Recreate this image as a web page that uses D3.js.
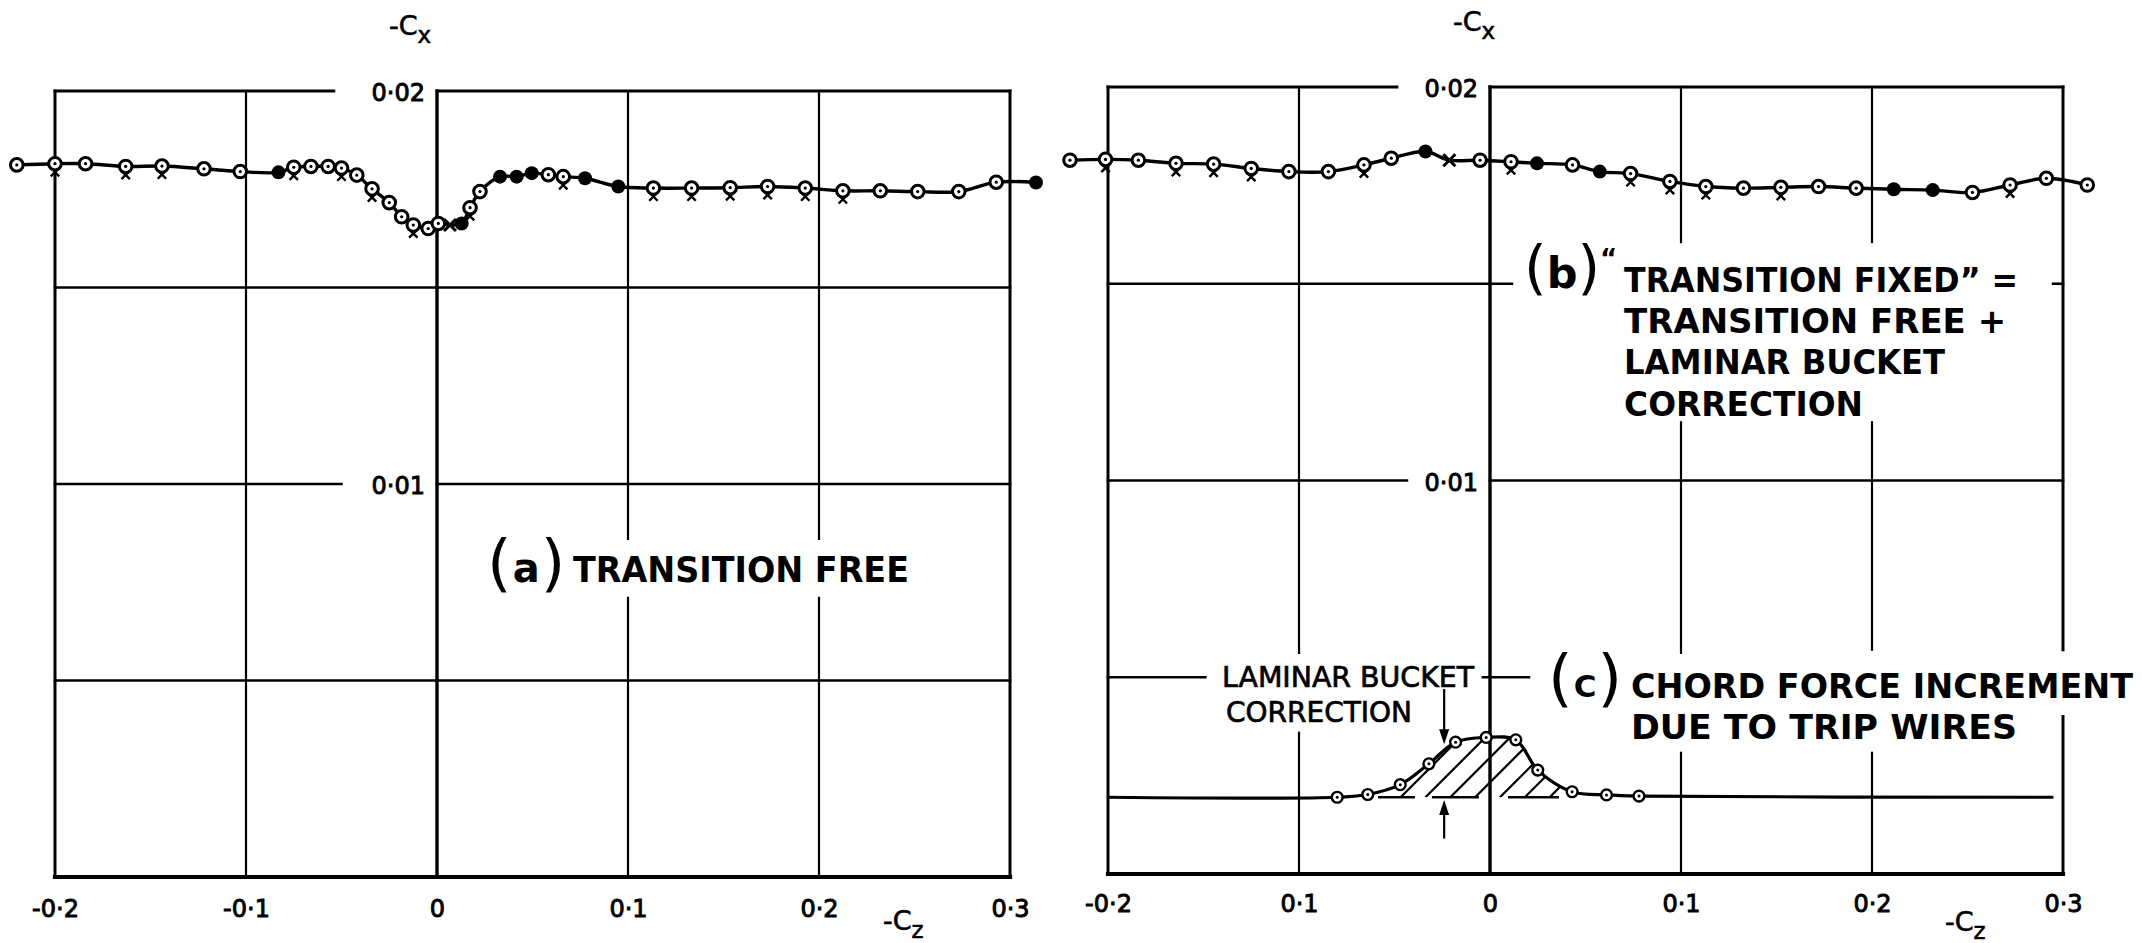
<!DOCTYPE html>
<html>
<head>
<meta charset="utf-8">
<script src="https://cdn.jsdelivr.net/npm/d3@7"></script>
<style>
  html, body { margin: 0; padding: 0; background: #fff; }
  svg { display: block; }
  text { fill: #000; font-family: "DejaVu Sans", "Liberation Sans", sans-serif; }
</style>
</head>
<body>
<svg id="chart" width="2142" height="943"></svg>
<script>
// ---- axes ----
const czTicks = [-0.2, -0.1, 0, 0.1, 0.2, 0.3];
const czLabelsFree = ["-0·2", "-0·1", "0", "0·1", "0·2", "0·3"];
const czLabelsFixed = ["-0·2", "0·1", "0", "0·1", "0·2", "0·3"];
const cxGrid = [0, 0.005, 0.01, 0.015, 0.02];
const cxLabelValues = [0.01, 0.02];
const cxLabels = ["0·01", "0·02"];

// ---- (a) transition free: -Cz, -Cx, marker type ----
const freeCz = [-0.220, -0.200, -0.184, -0.163, -0.144, -0.122, -0.103, -0.083, -0.075, -0.066,
  -0.057, -0.050, -0.042, -0.034, -0.025, -0.0185, -0.0124, -0.0046, 0.0007, 0.0068,
  0.0129, 0.0173, 0.0225, 0.033, 0.0417, 0.0496, 0.0583, 0.0661, 0.0775, 0.0949,
  0.1133, 0.1333, 0.1535, 0.1731, 0.1928, 0.2125, 0.2321, 0.2517, 0.2732, 0.2928, 0.3136];
const freeCx = [0.01812, 0.01815, 0.01815, 0.01808, 0.01809, 0.01802, 0.01795, 0.01793, 0.01806, 0.01808,
  0.01808, 0.01804, 0.01786, 0.01751, 0.01716, 0.0168, 0.01659, 0.0165, 0.01663, 0.01659,
  0.01663, 0.01703, 0.01744, 0.01782, 0.01782, 0.01791, 0.01787, 0.01782, 0.01778, 0.01757,
  0.01753, 0.01753, 0.01754, 0.01757, 0.01753, 0.01746, 0.01746, 0.01744, 0.01744, 0.01768, 0.01767];
const freeMark = ["o","ox","o","ox","ox","o","o","f","ox","o",
  "o","ox","o","ox","o","o","ox","o","o","x",
  "f","ox","o","f","f","f","o","ox","f","f",
  "ox","ox","ox","ox","ox","ox","o","o","o","o","f"];

// ---- (b) transition fixed ----
const fixedCz = [-0.2199, -0.2013, -0.1841, -0.1644, -0.1447, -0.125, -0.1053, -0.0846, -0.066, -0.0517,
  -0.0338, -0.0213, -0.0052, 0.011, 0.0246, 0.0432, 0.0575, 0.0736, 0.0942, 0.113,
  0.1327, 0.1523, 0.172, 0.1917, 0.2114, 0.2318, 0.2526, 0.2723, 0.2913, 0.3127];
const fixedCx = [0.01814, 0.01816, 0.01814, 0.01806, 0.01804, 0.01793, 0.01785, 0.01785, 0.01802, 0.01819,
  0.01836, 0.01814, 0.01814, 0.0181, 0.01806, 0.01802, 0.01785, 0.0178, 0.0176, 0.01747,
  0.01743, 0.01745, 0.01747, 0.01743, 0.0174, 0.01738, 0.01732, 0.01751, 0.01768, 0.01751];
const fixedMark = ["o","ox","o","ox","ox","ox","o","o","ox","o",
  "f","x","o","ox","f","o","f","ox","ox","ox",
  "o","ox","o","o","f","f","o","ox","o","o"];

// ---- (c) chord force increment due to trip wires ----
const incrCz = [-0.080, -0.064, -0.047, -0.032, -0.018, -0.002, 0.0135, 0.025, 0.043, 0.061, 0.078];
const incrCx = [0.00195, 0.00202, 0.00227, 0.0028, 0.00335, 0.00347, 0.00341, 0.00264, 0.00209, 0.00201, 0.00198];
const incrBase = 0.00195;
const incrSpan = [-0.2, 0.295];

// ---- scales ----
const svg = d3.select("#chart");
svg.append("rect").attr("width", 2142).attr("height", 943).attr("fill", "#fff");

const xL = d3.scaleLinear().domain([-0.2, 0.3]).range([55, 1010]);
const yL = d3.scaleLinear().domain([0, 0.02]).range([877, 91]);
const xR = d3.scaleLinear().domain([-0.2, 0.3]).range([1108, 2063]);
const yR = d3.scaleLinear().domain([0, 0.02]).range([874, 87]);

// remove gap intervals from [lo, hi]
function segments(lo, hi, gaps) {
  let segs = [[lo, hi]];
  (gaps || []).forEach(([a, b]) => {
    segs = segs.flatMap(([s, e]) => {
      const out = [];
      if (a > s) out.push([s, Math.min(e, a)]);
      if (b < e) out.push([Math.max(s, b), e]);
      return out.filter(([p, q]) => q > p);
    });
  });
  return segs;
}

function drawGrid(g, x, y, vGaps, hGaps) {
  const gl = g.append("g").attr("stroke", "#000").attr("stroke-linecap", "square");
  czTicks.forEach(t => {
    const w = t === 0 ? 3.4 : (t === -0.2 || t === 0.3) ? 3 : 2.2;
    const gaps = (vGaps.find(d => d.at === t) || {}).gaps;
    segments(0, 0.02, gaps).forEach(([a, b]) => {
      gl.append("line").attr("x1", x(t)).attr("x2", x(t)).attr("y1", y(a)).attr("y2", y(b)).attr("stroke-width", w);
    });
  });
  cxGrid.forEach(v => {
    const w = v === 0 ? 4.2 : v === 0.02 ? 2.8 : 2.6;
    const gaps = (hGaps.find(d => d.at === v) || {}).gaps;
    segments(-0.2, 0.3, gaps).forEach(([a, b]) => {
      gl.append("line").attr("x1", x(a)).attr("x2", x(b)).attr("y1", y(v)).attr("y2", y(v)).attr("stroke-width", w);
    });
  });
}

function drawAxes(g, x, y, czLabels, tickBase, titleX, titleY, czTitleX, czTitleY) {
  // -Cz tick labels
  const ax = g.append("g").attr("transform", `translate(0,${tickBase})`)
    .call(d3.axisBottom(x).tickValues(czTicks).tickFormat((d, i) => czLabels[i]).tickSize(0).tickPadding(0));
  ax.select(".domain").remove();
  ax.attr("font-family", null).attr("font-size", null);
  ax.selectAll("text").attr("y", 0).attr("dy", null)
    .attr("font-size", 24).attr("stroke", "#000").attr("stroke-width", 0.9);

  // -Cx labels set into the grid lines, left of the zero axis
  const ay = g.append("g").attr("transform", `translate(${x(0) - 12},0)`)
    .call(d3.axisLeft(y).tickValues(cxLabelValues).tickFormat((d, i) => cxLabels[i]).tickSize(0).tickPadding(0));
  ay.select(".domain").remove();
  ay.attr("font-family", null).attr("font-size", null);
  ay.selectAll("text").attr("dy", "0.4em")
    .attr("font-size", 24).attr("stroke", "#000").attr("stroke-width", 0.9);

  // axis titles
  const t1 = g.append("text").attr("x", titleX).attr("y", titleY).attr("font-size", 27)
    .attr("stroke", "#000").attr("stroke-width", 0.6);
  t1.append("tspan").text("-C");
  t1.append("tspan").attr("dy", 8).attr("font-size", 23).text("x");
  const t2 = g.append("text").attr("x", czTitleX).attr("y", czTitleY).attr("font-size", 27)
    .attr("stroke", "#000").attr("stroke-width", 0.6);
  t2.append("tspan").text("-C");
  t2.append("tspan").attr("dy", 8).attr("font-size", 23).text("z");
}

function cross(s, cx, cy, r, w) {
  s.append("path").attr("d", `M${cx - r},${cy - r}L${cx + r},${cy + r}M${cx - r},${cy + r}L${cx + r},${cy - r}`)
    .attr("stroke", "#000").attr("stroke-width", w).attr("fill", "none");
}

function drawSeries(g, x, y, cz, cx, marks) {
  const pts = cz.map((d, i) => [d, cx[i], marks[i]]);
  g.append("path").datum(pts)
    .attr("d", d3.line().x(d => x(d[0])).y(d => y(d[1])).curve(d3.curveCatmullRom.alpha(0.5)))
    .attr("fill", "none").attr("stroke", "#000").attr("stroke-width", 3.4);
  g.selectAll(null).data(pts).join("g")
    .attr("transform", d => `translate(${x(d[0])},${y(d[1])})`)
    .each(function (d) {
      const s = d3.select(this);
      const t = d[2];
      if (t === "f") {
        s.append("circle").attr("r", 7).attr("fill", "#000");
      } else if (t === "x") {
        cross(s, 0, 0, 6, 3);
      } else {
        s.append("circle").attr("r", 6.3).attr("fill", "#fff").attr("stroke", "#000").attr("stroke-width", 3);
        s.append("circle").attr("r", 1.6).attr("fill", "#000");
        if (t === "ox") cross(s, 0, 8.5, 4.2, 2.4);
      }
    });
}

function note(g, txt, x, y, size, len, weight) {
  return g.append("text").attr("x", x).attr("y", y).attr("font-size", size)
    .attr("font-weight", weight || "bold")
    .attr("textLength", len).attr("lengthAdjust", "spacingAndGlyphs").text(txt);
}
// "(a)"-style panel tag: large parentheses round a bold letter, set as one run
function tag(g, letter, x0, parenBase, parenSize, letterBase, letterSize, gap) {
  const t = g.append("text").attr("x", x0).attr("font-family", "Liberation Sans");
  t.append("tspan").attr("y", parenBase).attr("font-size", parenSize).text("(");
  t.append("tspan").attr("dx", gap).attr("y", letterBase)
    .attr("font-weight", "bold").attr("font-size", letterSize).text(letter);
  t.append("tspan").attr("dx", gap).attr("y", parenBase).attr("font-size", parenSize).text(")");
}

// ================= left panel: (a) transition free =================
const gA = svg.append("g");
drawGrid(gA, xL, yL,
  [{ at: 0.1, gaps: [[0.0071, 0.0086]] }, { at: 0.2, gaps: [[0.0071, 0.0086]] }],
  [{ at: 0.02, gaps: [[-0.054, 0]] }, { at: 0.01, gaps: [[-0.05, 0]] }]);
drawAxes(gA, xL, yL, czLabelsFree, 917, xL(0) - 48, 35, xL(0.2) + 64, 930);
drawSeries(gA, xL, yL, freeCz, freeCx, freeMark);
tag(gA, "a", xL(0.0262), yL(0.0075) + 2, 63, yL(0.0075), 40, 1);
note(gA, "TRANSITION FREE", xL(0.0712), yL(0.0075), 36, 336);

// ================= right panel: (b) transition fixed, (c) increment =================
const gB = svg.append("g");
drawGrid(gB, xR, yR,
  [{ at: -0.1, gaps: [[0.00359, 0.00562]] },
   { at: 0.1, gaps: [[0.00308, 0.00562], [0.01148, 0.01606]] },
   { at: 0.2, gaps: [[0.00308, 0.0057], [0.01148, 0.01606]] },
   { at: 0.3, gaps: [[0.004, 0.0057]] }],
  [{ at: 0.02, gaps: [[-0.0487, 0]] },
   { at: 0.015, gaps: [[0.0115, 0.2948]] },
   { at: 0.01, gaps: [[-0.0435, 0]] },
   { at: 0.005, gaps: [[-0.149, -0.0037], [0.0204, 0.31]] }]);
drawAxes(gB, xR, yR, czLabelsFixed, 912, xR(0) - 37, 31, xR(0.2) + 73, 931);
drawSeries(gB, xR, yR, fixedCz, fixedCx, fixedMark);

// (b) caption
tag(gB, "b", xR(0.0178), 288, 58, 288, 43, 0);
gB.append("text").attr("x", xR(0.0576)).attr("y", 268).attr("font-weight", "bold").attr("font-size", 26).text("\u201C");
note(gB, "TRANSITION FIXED\u201D =", xR(0.0702), 292, 34, 394);
note(gB, "TRANSITION FREE +", xR(0.0702), 333, 34, 382);
note(gB, "LAMINAR BUCKET", xR(0.0702), 374, 34, 321);
note(gB, "CORRECTION", xR(0.0702), 416, 34, 239);

// (c) increment curve with hatched laminar-bucket correction
const incPts = [[incrSpan[0], incrBase]].concat(incrCz.map((d, i) => [d, incrCx[i]]), [[incrSpan[1], incrBase]]);
const incCurve = d3.curveCatmullRom.alpha(0.5);
const defs = svg.append("defs");
defs.append("clipPath").attr("id", "bucket-clip").append("path")
  .attr("d", d3.area().x(d => xR(d[0])).y0(yR(incrBase)).y1(d => yR(d[1])).curve(incCurve)(incrCz.map((d, i) => [d, incrCx[i]])));
const hatch = gB.append("g").attr("clip-path", "url(#bucket-clip)").attr("stroke", "#000").attr("stroke-width", 2.2);
d3.range(7).forEach(k => {
  const x0 = xR(-0.0468 + k * 0.013);
  hatch.append("line").attr("x1", x0).attr("y1", yR(incrBase)).attr("x2", x0 + 90).attr("y2", yR(incrBase) - 90);
});
[[-0.0586, -0.0393], [-0.0304, -0.0058], [0.0094, 0.0361]].forEach(([a, b]) => {
  gB.append("line").attr("x1", xR(a)).attr("x2", xR(b)).attr("y1", yR(incrBase)).attr("y2", yR(incrBase))
    .attr("stroke", "#000").attr("stroke-width", 2.6);
});
gB.append("path").datum(incPts)
  .attr("d", d3.line().x(d => xR(d[0])).y(d => yR(d[1])).curve(incCurve))
  .attr("fill", "none").attr("stroke", "#000").attr("stroke-width", 3.2);
gB.selectAll(null).data(incrCz.map((d, i) => [d, incrCx[i]])).join("g")
  .attr("transform", d => `translate(${xR(d[0])},${yR(d[1])})`)
  .each(function () {
    const s = d3.select(this);
    s.append("circle").attr("r", 5.4).attr("fill", "#fff").attr("stroke", "#000").attr("stroke-width", 2.4);
    s.append("circle").attr("r", 1.5).attr("fill", "#000");
  });

// arrows marking the correction
function arrow(g, x, yFrom, yTo) {
  const dir = yTo > yFrom ? 1 : -1;
  g.append("line").attr("x1", x).attr("x2", x).attr("y1", yFrom).attr("y2", yTo - dir * 12)
    .attr("stroke", "#000").attr("stroke-width", 2.2);
  g.append("path").attr("d", `M${x},${yTo}L${x - 5},${yTo - dir * 15}L${x + 5},${yTo - dir * 15}Z`).attr("fill", "#000");
}
arrow(gB, xR(-0.024), yR(0.0047), yR(0.0033));
arrow(gB, xR(-0.024), yR(0.0009), yR(0.00188));

note(gB, "LAMINAR BUCKET", xR(-0.1403), 687, 28, 252, "normal").attr("stroke", "#000").attr("stroke-width", 0.7);
note(gB, "CORRECTION", xR(-0.1382), 722, 28, 186, "normal").attr("stroke", "#000").attr("stroke-width", 0.7);
tag(gB, "C", xR(0.0304), 699, 63, 697, 31, 1);
note(gB, "CHORD FORCE INCREMENT", xR(0.0738), 698, 33, 502);
note(gB, "DUE TO TRIP WIRES", xR(0.0738), 739, 33, 386);
</script>
</body>
</html>
